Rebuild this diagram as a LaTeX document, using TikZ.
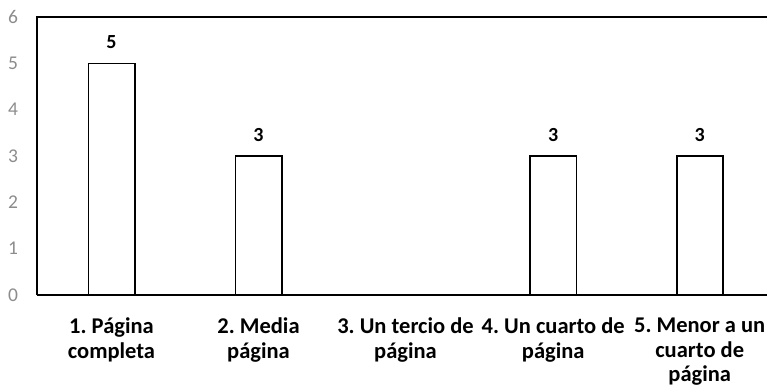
\documentclass[tikz,border=0pt]{standalone}
\usepackage{fontspec}
\setmainfont{Carlito}
\frenchspacing
\begin{document}
\begin{tikzpicture}[x=1pt,y=1pt,
  bar/.style={draw=black,line width=1.6pt,fill=white},
  ytick/.style={text=black!45,font=\fontsize{19.5}{19.5}\selectfont,anchor=center,inner sep=0pt},
  vlabel/.style={font=\bfseries\fontsize{20}{20}\selectfont,anchor=center,inner sep=0pt},
  cat/.style={font=\bfseries\fontsize{22.5}{24.5}\selectfont,align=center,anchor=north,inner sep=0pt}]
\useasboundingbox (0,0) rectangle (767,388);
% frame
\draw[line width=2pt] (37,93) -- (37,371) -- (767,371);
% y ticks
\foreach \v in {0,...,6}{
  \node[ytick] (y\v) at (13,{93+\v*46.33}) {\v};
}
% bars
\def\u{46.33}
\coordinate (b1a) at (88.3,93);  \coordinate (b1b) at (134.7,{93+5*\u});
\coordinate (b2a) at (235.3,93); \coordinate (b2b) at (281.7,{93+3*\u});
\coordinate (b4a) at (530,93);   \coordinate (b4b) at (576.4,{93+3*\u});
\coordinate (b5a) at (676.7,93); \coordinate (b5b) at (722.7,{93+3*\u});
\draw[bar] (b1a) rectangle (b1b);
\draw[bar] (b2a) rectangle (b2b);
\draw[bar] (b4a) rectangle (b4b);
\draw[bar] (b5a) rectangle (b5b);
% baseline
\draw[line width=1.6pt] (37,93) -- (767,93);
% value labels
\node[vlabel] (v1) at (111.5,{93+5*\u+21}) {5};
\node[vlabel] (v2) at (258.5,{93+3*\u+21}) {3};
\node[vlabel] (v4) at (553.2,{93+3*\u+21}) {3};
\node[vlabel] (v5) at (699.7,{93+3*\u+21}) {3};
% category labels
\node[cat] (c1) at (111.5,70) {1. Página\\completa};
\node[cat] (c2) at (258.5,70) {2. Media\\página};
\node[cat] (c3) at (405.5,70) {3. Un tercio de\\página};
\node[cat] (c4) at (553.2,70) {4. Un cuarto de\\página};
\node[cat] (c5) at (699.7,70) {5. Menor a un\\cuarto de\\página};
\end{tikzpicture}
\end{document}
